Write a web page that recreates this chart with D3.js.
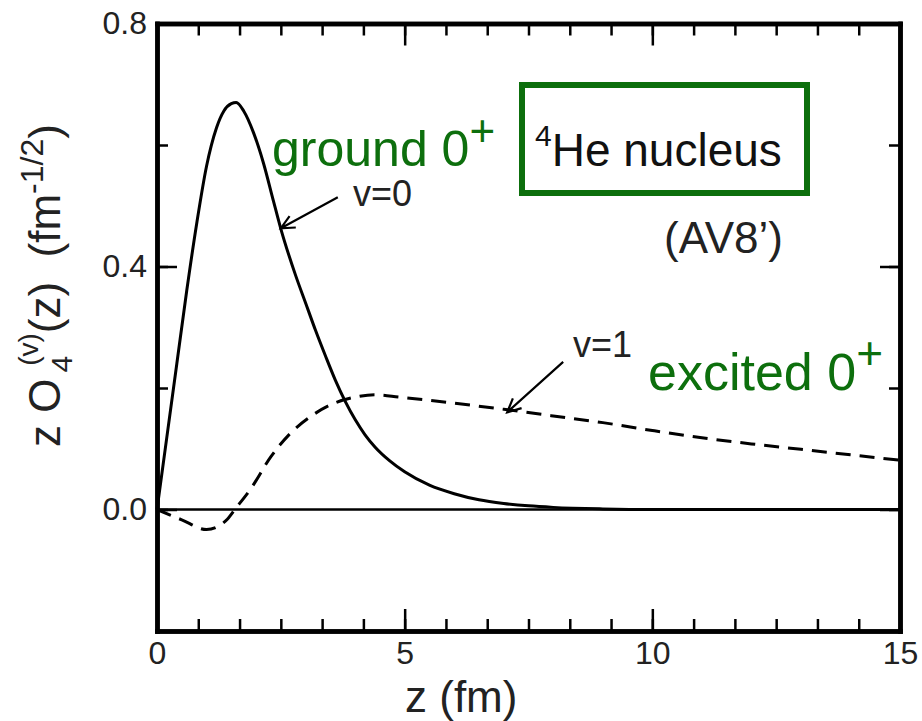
<!DOCTYPE html>
<html lang="en">
    <head>
        <meta charset="UTF-8" />
        <title>D3</title>
        <script src="https://d3js.org/d3.v7.min.js"></script>
        <style>
            body { margin: 0; background: #fff; }
            text { font-family: "Liberation Sans", Arial, sans-serif; }
        </style>
    </head>
    <body>
        <div class="canvas"></div>
        <script>
            // v=0 (ground 0+) curve
            const groundZ = [0, 0.2, 0.4, 0.6, 0.8, 1.0, 1.2, 1.35, 1.5, 1.6, 1.75, 1.95, 2.15, 2.35, 2.5, 2.8, 3.0, 3.2, 3.4, 3.6, 3.8, 4.0, 4.2, 4.4, 4.7, 5.0, 5.5, 6.0, 6.5, 7.0, 7.5, 8.0, 9.0, 10, 15];
            const groundV = [0, 0.12, 0.24, 0.36, 0.47, 0.565, 0.628, 0.656, 0.668, 0.67, 0.656, 0.62, 0.57, 0.508, 0.462, 0.385, 0.34, 0.295, 0.253, 0.213, 0.178, 0.148, 0.123, 0.103, 0.08, 0.062, 0.04, 0.026, 0.016, 0.01, 0.006, 0.0035, 0.001, 0, 0];

            // v=1 (excited 0+) curve
            const excitedZ = [0, 0.5, 1.0, 1.25, 1.42, 1.6, 1.9, 2.3, 2.7, 3.1, 3.55, 4.0, 4.4, 4.9, 6, 7, 8, 9, 10, 11, 12, 13, 14, 15];
            const excitedV = [0, -0.017, -0.033, -0.027, -0.016, 0.003, 0.035, 0.087, 0.126, 0.153, 0.174, 0.185, 0.189, 0.185, 0.175, 0.165, 0.154, 0.143, 0.13, 0.118, 0.108, 0.099, 0.09, 0.081];

            const xTicks = [0, 5, 10, 15];
            const yTicks = [0, 0.4, 0.8];

            const width = 922;
            const height = 721;
            const green = "#0d6f0d";
            const ink = "#222";

            const svg = d3
                .select(".canvas")
                .append("svg")
                .attr("width", width)
                .attr("height", height);

            const x = d3.scaleLinear().domain([0, 15]).range([157, 900]);
            const y = d3.scaleLinear().domain([-0.2, 0.8]).range([631, 23.5]);

            const xMinor = d3.range(19).map((i) => (i * 5) / 6);
            const yMinor = d3.range(6).map((i) => -0.2 + i * 0.2);

            // frame: minor + major ticks on all four sides, pointing inward
            const sides = [
                { axis: d3.axisBottom, scale: x, at: `translate(0,${y(-0.2)})`, minor: xMinor, major: xTicks, fmt: d3.format("d"), min: 12, maj: 22 },
                { axis: d3.axisTop, scale: x, at: `translate(0,${y(0.8)})`, minor: xMinor, major: xTicks, fmt: null, min: 12, maj: 22 },
                { axis: d3.axisLeft, scale: y, at: `translate(${x(0)},0)`, minor: yMinor, major: yTicks, fmt: d3.format(".1f"), min: 11, maj: 20 },
                { axis: d3.axisRight, scale: y, at: `translate(${x(15)},0)`, minor: yMinor, major: yTicks, fmt: null, min: 11, maj: 20 },
            ];

            sides.forEach((s) => {
                const g = svg.append("g").attr("transform", s.at);
                g.append("g").call(
                    s.axis(s.scale).tickValues(s.minor).tickSizeInner(-s.min).tickSizeOuter(0).tickFormat("")
                );
                g.append("g").call(
                    s.axis(s.scale)
                        .tickValues(s.major)
                        .tickSizeInner(-s.maj)
                        .tickSizeOuter(0)
                        .tickPadding(10)
                        .tickFormat(s.fmt ? s.fmt : "")
                );
                g.selectAll(".domain").attr("stroke", "#000").attr("stroke-width", 4.5).attr("stroke-linecap", "square");
                g.selectAll(".tick line").attr("stroke", "#000").attr("stroke-width", 2.5);
                g.selectAll(".tick text")
                    .attr("font-size", 32)
                    .attr("fill", ink)
                    .style("font-family", '"Liberation Sans", Arial, sans-serif');
            });

            // zero line
            svg.append("line")
                .attr("x1", x(0))
                .attr("x2", x(15))
                .attr("y1", y(0))
                .attr("y2", y(0))
                .attr("stroke", "#000")
                .attr("stroke-width", 2.5);

            const line = d3
                .line()
                .x((d) => x(d[0]))
                .y((d) => y(d[1]))
                .curve(d3.curveMonotoneX);

            svg.append("path")
                .attr("d", line(d3.zip(excitedZ, excitedV)))
                .attr("fill", "none")
                .attr("stroke", "#000")
                .attr("stroke-width", 3)
                .attr("stroke-dasharray", "15,9");

            svg.append("path")
                .attr("d", line(d3.zip(groundZ, groundV)))
                .attr("fill", "none")
                .attr("stroke", "#000")
                .attr("stroke-width", 3)
                .attr("stroke-linejoin", "round");

            // arrows pointing at the curves (tail -> tip, data units)
            const arrows = [
                { from: [3.65, 0.514], to: [2.5, 0.463] },
                { from: [8.2, 0.243], to: [7.07, 0.16] },
            ];
            arrows.forEach((a) => {
                const x1 = x(a.from[0]), y1 = y(a.from[1]);
                const x2 = x(a.to[0]), y2 = y(a.to[1]);
                const ang = Math.atan2(y1 - y2, x1 - x2);
                const head = 15;
                const spread = 0.45;
                const p = d3.path();
                p.moveTo(x1, y1);
                p.lineTo(x2, y2);
                p.moveTo(x2 + head * Math.cos(ang + spread), y2 + head * Math.sin(ang + spread));
                p.lineTo(x2, y2);
                p.lineTo(x2 + head * Math.cos(ang - spread), y2 + head * Math.sin(ang - spread));
                svg.append("path")
                    .attr("d", p.toString())
                    .attr("fill", "none")
                    .attr("stroke", "#000")
                    .attr("stroke-width", 2.2);
            });

            // labels
            svg.append("text").attr("x", 353).attr("y", 206).attr("font-size", 36).attr("fill", ink).text("v=0");
            svg.append("text").attr("x", 573).attr("y", 357).attr("font-size", 36).attr("fill", ink).text("v=1");

            const ground = svg.append("text").attr("x", 272).attr("y", 166).attr("font-size", 50).attr("fill", green);
            ground.append("tspan").text("ground 0");
            ground.append("tspan").attr("font-size", 44).attr("dy", -20).text("+");

            const excited = svg.append("text").attr("x", 648).attr("y", 390).attr("font-size", 52).attr("fill", green);
            excited.append("tspan").text("excited 0");
            excited.append("tspan").attr("font-size", 46).attr("dy", -21).text("+");

            svg.append("rect")
                .attr("x", 522)
                .attr("y", 85)
                .attr("width", 285)
                .attr("height", 108)
                .attr("fill", "none")
                .attr("stroke", green)
                .attr("stroke-width", 6);

            const he = svg.append("text").attr("x", 535).attr("y", 166).attr("fill", "#111");
            he.append("tspan").attr("font-size", 30).attr("dy", -20).text("4");
            he.append("tspan").attr("font-size", 46).attr("dy", 20).text("He nucleus");

            svg.append("text").attr("x", 664).attr("y", 253).attr("font-size", 44).attr("fill", ink).text("(AV8\u2019)");

            // axis titles
            const xt = svg.append("text").attr("x", 405).attr("y", 712).attr("font-size", 44).attr("fill", ink);
            xt.append("tspan").text("z (fm)");

            const yt = svg
                .append("text")
                .attr("transform", "translate(60,447) rotate(-90)")
                .attr("font-size", 44)
                .attr("fill", ink);
            yt.append("tspan").text("z O");
            yt.append("tspan").attr("font-size", 30).attr("dx", 6).attr("dy", 12).text("4");
            yt.append("tspan").attr("font-size", 28).attr("dx", -10).attr("dy", -34).text("(v)");
            yt.append("tspan").attr("dy", 22).text("(z)");
            yt.append("tspan").text("\u00a0\u00a0(fm");
            yt.append("tspan").attr("font-size", 32).attr("dy", -17).text("-1/2");
            yt.append("tspan").attr("dy", 17).text(")");
        </script>
    </body>
</html>
